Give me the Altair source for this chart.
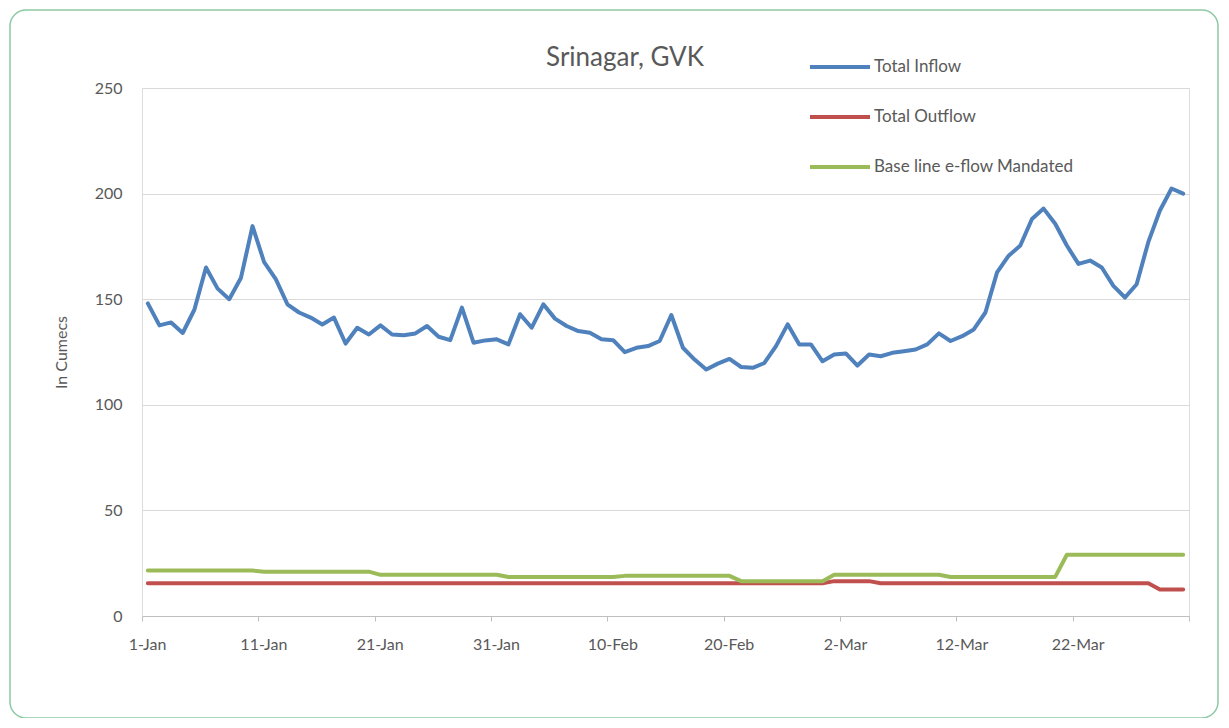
import altair as alt
import pandas as pd

SERIES = ["Total Inflow", "Total Outflow", "Base line e-flow Mandated"]
COLORS = ["#4F81BD", "#C0504D", "#9BBB59"]
CHART_TITLE = "Srinagar, GVK"
START_DATE = "2015-01-01"
TICK_DAYS = [0, 10, 20, 30, 40, 50, 60, 70, 80, 90]
TICK_LABELS = ["1-Jan", "11-Jan", "21-Jan", "31-Jan", "10-Feb", "20-Feb",
               "2-Mar", "12-Mar", "22-Mar", ""]
Y_TICKS = [0, 50, 100, 150, 200, 250]

INFLOW = [148, 137.6, 139, 134, 145, 165, 155, 150, 160, 184.6,
          167.5, 159.5, 147.6, 143.7, 141.3, 138, 141.3, 129, 136.5, 133.3,
          137.6, 133.3, 132.9, 133.8, 137.3, 132.2, 130.6, 146, 129.4, 130.5,
          131, 128.6, 142.9, 136.5, 147.6, 140.8, 137.3, 134.9, 134.1, 131,
          130.6, 124.9, 127, 127.8, 130.2, 142.5, 127, 121.4, 116.7, 119.5,
          121.7, 117.9, 117.5, 119.8, 127.8, 138.1, 128.6, 128.6, 120.6, 123.8,
          124.3, 118.6, 123.8, 123, 124.6, 125.4, 126.2, 128.6, 133.8, 130.2,
          132.5, 135.7, 143.7, 162.7, 170.6, 175.4, 188, 192.9, 185.7, 175.4,
          166.7, 168.3, 165, 156.3, 150.8, 157.1, 177, 192, 202.4, 200]

OUTFLOW = [15.5, 15.5, 15.5, 15.5, 15.5, 15.5, 15.5, 15.5, 15.5, 15.5,
           15.5, 15.5, 15.5, 15.5, 15.5, 15.5, 15.5, 15.5, 15.5, 15.5,
           15.5, 15.5, 15.5, 15.5, 15.5, 15.5, 15.5, 15.5, 15.5, 15.5,
           15.5, 15.5, 15.5, 15.5, 15.5, 15.5, 15.5, 15.5, 15.5, 15.5,
           15.5, 15.5, 15.5, 15.5, 15.5, 15.5, 15.5, 15.5, 15.5, 15.5,
           15.5, 15.5, 15.5, 15.5, 15.5, 15.5, 15.5, 15.5, 15.5, 16.5,
           16.5, 16.5, 16.5, 15.5, 15.5, 15.5, 15.5, 15.5, 15.5, 15.5,
           15.5, 15.5, 15.5, 15.5, 15.5, 15.5, 15.5, 15.5, 15.5, 15.5,
           15.5, 15.5, 15.5, 15.5, 15.5, 15.5, 15.5, 12.5, 12.5, 12.5]

EFLOW = [21.5, 21.5, 21.5, 21.5, 21.5, 21.5, 21.5, 21.5, 21.5, 21.5,
         21, 21, 21, 21, 21, 21, 21, 21, 21, 21,
         19.5, 19.5, 19.5, 19.5, 19.5, 19.5, 19.5, 19.5, 19.5, 19.5,
         19.5, 18.5, 18.5, 18.5, 18.5, 18.5, 18.5, 18.5, 18.5, 18.5,
         18.5, 19, 19, 19, 19, 19, 19, 19, 19, 19,
         19, 16.5, 16.5, 16.5, 16.5, 16.5, 16.5, 16.5, 16.5, 19.5,
         19.5, 19.5, 19.5, 19.5, 19.5, 19.5, 19.5, 19.5, 19.5, 18.5,
         18.5, 18.5, 18.5, 18.5, 18.5, 18.5, 18.5, 18.5, 18.5, 29,
         29, 29, 29, 29, 29, 29, 29, 29, 29, 29]

dates = pd.date_range(START_DATE, periods=len(INFLOW), freq="D")
rows = []
for order, (name, vals) in enumerate(zip(SERIES, [INFLOW, OUTFLOW, EFLOW])):
    for d, v in zip(dates, vals):
        # points sit in the middle of each day slot (Excel "between tick marks")
        rows.append({"series": name, "order": order,
                     "day": (d - dates[0]).days + 0.5, "value": v})
df = pd.DataFrame(rows)

FONT = "Lato"
GREY = "#595959"

label_expr = ("[" + ",".join("'%s'" % s for s in TICK_LABELS) + "]"
              "[indexof([" + ",".join(str(t) for t in TICK_DAYS) + "], datum.value)]")

W, H = 1047, 528
PAD = {"left": 134, "top": 80, "right": 32, "bottom": 102}

lines = alt.Chart(df).mark_line(strokeWidth=4, strokeJoin="round", strokeCap="round").encode(
    x=alt.X("day:Q",
            scale=alt.Scale(domain=[0, 90], nice=False, zero=False),
            axis=alt.Axis(values=TICK_DAYS, labelExpr=label_expr, grid=False,
                          domainColor="#bfbfbf", tickColor="#bfbfbf", tickSize=5,
                          labelFontSize=16, labelColor=GREY, labelFont=FONT,
                          labelPadding=15, labelFlush=False, labelOverlap=False,
                          labelOffset=5, title=None)),
    y=alt.Y("value:Q",
            scale=alt.Scale(domain=[0, 250], nice=False),
            axis=alt.Axis(values=Y_TICKS, grid=True, gridColor="#d9d9d9",
                          domain=False, ticks=False, labelPadding=20,
                          labelFontSize=16, labelColor=GREY, labelFont=FONT,
                          title="In Cumecs", titleFontSize=16, titleFont=FONT,
                          titleFontWeight="normal", titleColor=GREY,
                          titlePadding=25)),
    color=alt.Color("series:N",
                    scale=alt.Scale(domain=SERIES, range=COLORS),
                    legend=alt.Legend(title=None, orient="none", legendX=666,
                                      legendY=-53, symbolType="stroke",
                                      symbolSize=3600, symbolStrokeWidth=4,
                                      labelFontSize=17, labelColor=GREY,
                                      labelFont=FONT, rowPadding=10,
                                      padding=0, labelOffset=2, labelLimit=0)),
    order=alt.Order("order:Q"),
    detail="series:N",
)

frame = alt.Chart(pd.DataFrame({"a": [0]})).mark_rect(
    filled=False, stroke="#8cc9a3", strokeWidth=1.5, cornerRadius=16
).encode(
    x=alt.value(-132), x2=alt.value(1076),
    y=alt.value(-78), y2=alt.value(630),
)

title = alt.Chart(pd.DataFrame({"t": [CHART_TITLE]})).mark_text(
    fontSize=26, font=FONT, color=GREY, align="center", baseline="middle"
).encode(
    text="t:N", x=alt.value(483), y=alt.value(-30),
)

chart = alt.layer(frame, lines, title).properties(
    width=W, height=H,
    autosize=alt.AutoSizeParams(type="none"),
    padding=PAD,
).configure_view(stroke=None).configure(background="white")

chart.save("out.html", embed_options={"renderer": "svg", "actions": False})
